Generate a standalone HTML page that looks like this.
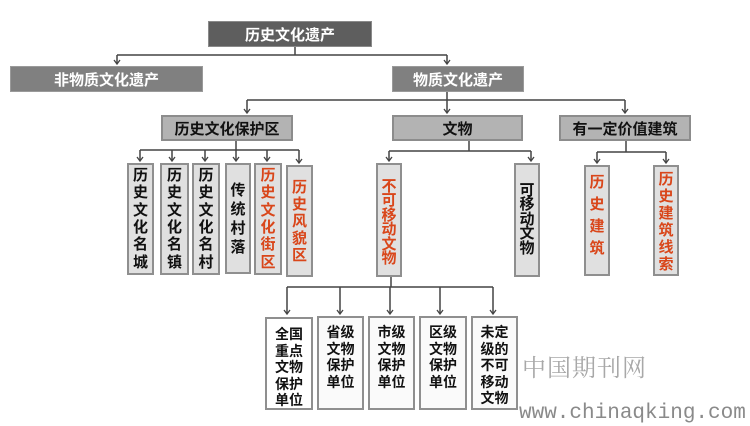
<!DOCTYPE html>
<html><head><meta charset="utf-8"><style>
html,body{margin:0;padding:0;background:#fff;}
body{width:750px;height:426px;position:relative;overflow:hidden;font-family:"Liberation Sans","Noto Sans CJK SC",sans-serif;}
.b{position:absolute;box-sizing:border-box;display:flex;align-items:center;justify-content:center;font-weight:bold;text-align:center;}
.t1{background:#5e5e5e;border:1px solid #8a8a8a;color:#fff;font-size:15px;}
.t2{background:#808080;border:1px solid #9a9a9a;color:#fff;font-size:15px;}
.t3{background:#b3b3b3;border:2px solid #8c8c8c;color:#111;font-size:15px;}
.v{background:#e0e0e0;border:2px solid #8f8f8f;color:#111;font-size:15px;}
.r{color:#d9461a;}
.w{background:#fafafa;border:2px solid #8f8f8f;color:#111;font-size:14px;line-height:16.5px;align-items:flex-start;padding-top:7px;}
</style></head><body>
<svg width="750" height="426" style="position:absolute;left:0;top:0">
<g stroke="#444" stroke-width="1.5" fill="none">
<path d="M295 46V55M117 55H447M117 55V64M447 55V64"/>
<path d="M447 92V113M247 100H625M247 100V113M625 100V113"/>
<path d="M236 141V161M140 150H299M140 150V161M172 150V161M205 150V161M267 150V161M299 150V163"/>
<path d="M469 141V151M389 151H531M389 151V161M531 151V161"/>
<path d="M626 141V152M597 152H666M597 152V163M666 152V163"/>
<path d="M391 277V287M287 287H493M287 287V314M340 287V314M390 287V314M440 287V314M493 287V314"/>
</g>
<g stroke="#444" stroke-width="1.3" fill="none">
<path d="M114 60L117 64L120 60M444 60L447 64L450 60"/>
<path d="M244 109L247 113L250 109M444 109L447 113L450 109M622 109L625 113L628 109"/>
<path d="M137 157L140 161L143 157M169 157L172 161L175 157M202 157L205 161L208 157M233 157L236 161L239 157M264 157L267 161L270 157M296 159L299 163L302 159"/>
<path d="M386 157L389 161L392 157M528 157L531 161L534 157M594 159L597 163L600 159M663 159L666 163L669 159"/>
<path d="M284 310L287 314L290 310M337 310L340 314L343 310M387 310L390 314L393 310M437 310L440 314L443 310M490 310L493 314L496 310"/>
</g>
</svg>
<div class="b t1" style="left:208px;top:21px;width:164px;height:26px">历史文化遗产</div>
<div class="b t2" style="left:10px;top:66px;width:193px;height:26px">非物质文化遗产</div>
<div class="b t2" style="left:392px;top:66px;width:132px;height:26px">物质文化遗产</div>
<div class="b t3" style="left:161px;top:115px;width:132px;height:26px">历史文化保护区</div>
<div class="b t3" style="left:392px;top:115px;width:131px;height:26px">文物</div>
<div class="b t3" style="left:559px;top:115px;width:132px;height:26px">有一定价值建筑</div>

<div class="b v" style="left:127px;top:163px;width:27px;height:112px;line-height:17.3px">历<br>史<br>文<br>化<br>名<br>城</div>
<div class="b v" style="left:160px;top:163px;width:29px;height:112px;line-height:17.3px">历<br>史<br>文<br>化<br>名<br>镇</div>
<div class="b v" style="left:192px;top:163px;width:28px;height:112px;line-height:17.3px">历<br>史<br>文<br>化<br>名<br>村</div>
<div class="b v" style="left:225px;top:163px;width:26px;height:111px;line-height:19px">传<br>统<br>村<br>落</div>
<div class="b v r" style="left:254px;top:163px;width:28px;height:112px;line-height:17.3px">历<br>史<br>文<br>化<br>街<br>区</div>
<div class="b v r" style="left:286px;top:165px;width:27px;height:112px;line-height:17px">历<br>史<br>风<br>貌<br>区</div>
<div class="b v r" style="left:376px;top:163px;width:26px;height:114px;line-height:14.5px;padding-top:6px">不<br>可<br>移<br>动<br>文<br>物</div>
<div class="b v" style="left:514px;top:163px;width:26px;height:114px;line-height:14.5px">可<br>移<br>动<br>文<br>物</div>
<div class="b v r" style="left:584px;top:165px;width:26px;height:111px;line-height:22px;padding-bottom:10px">历<br>史<br>建<br>筑</div>
<div class="b v r" style="left:653px;top:165px;width:26px;height:111px;line-height:17px;padding-top:2px">历<br>史<br>建<br>筑<br>线<br>索</div>

<div class="b w" style="left:265px;top:317px;width:48px;height:93px;background:#fff">全国<br>重点<br>文物<br>保护<br>单位</div>
<div class="b w" style="left:317px;top:316px;width:47px;height:94px;padding-top:6px">省级<br>文物<br>保护<br>单位</div>
<div class="b w" style="left:368px;top:316px;width:47px;height:94px;padding-top:6px">市级<br>文物<br>保护<br>单位</div>
<div class="b w" style="left:419px;top:316px;width:48px;height:94px;padding-top:6px">区级<br>文物<br>保护<br>单位</div>
<div class="b w" style="left:471px;top:316px;width:47px;height:94px;padding-top:6px">未定<br>级的<br>不可<br>移动<br>文物</div>

<div style="position:absolute;left:522px;top:348px;font-family:'Liberation Serif','Noto Serif CJK SC',serif;font-size:24px;color:#a8a8a8;letter-spacing:1px;white-space:nowrap">中国期刊网</div>
<div style="position:absolute;left:519px;top:402px;font-family:'Liberation Mono',monospace;font-size:21px;color:#8a8a8a;white-space:nowrap">www.chinaqking.com</div>
</body></html>
